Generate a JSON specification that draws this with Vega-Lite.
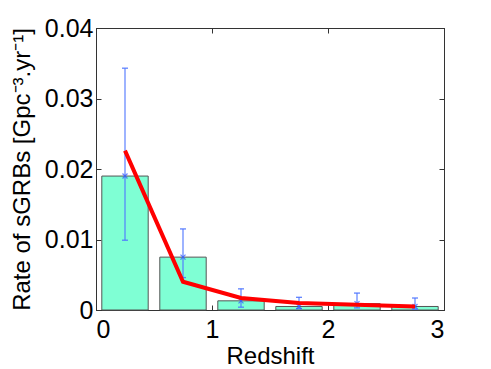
{
  "$schema": "https://vega.github.io/schema/vega-lite/v6.json",
  "autosize": "none",
  "padding": {"left": 96, "top": 28, "right": 47, "bottom": 59},
  "width": 348,
  "height": 282,
  "background": "white",
  "config": {
    "view": {"stroke": "#333", "strokeWidth": 1},
    "axis": {
      "labelFont": "Liberation Sans",
      "labelFontSize": 25,
      "labelColor": "black",
      "titleFont": "Liberation Sans",
      "titleFontSize": 24,
      "titleFontWeight": "normal",
      "titleColor": "black",
      "grid": false,
      "domainColor": "#333",
      "tickColor": "#333",
      "tickSize": -5,
      "labelPadding": 12
    }
  },
  "data": {
    "values": [
      {"z": 0.25, "lo": 0.05, "hi": 0.45, "rate": 0.019, "elo": 0.0099, "ehi": 0.0343, "model": 0.0226},
      {"z": 0.75, "lo": 0.55, "hi": 0.95, "rate": 0.0075, "elo": 0.0046, "ehi": 0.0115, "model": 0.0040},
      {"z": 1.25, "lo": 1.05, "hi": 1.45, "rate": 0.0013, "elo": 0.0004, "ehi": 0.0030, "model": 0.0017},
      {"z": 1.75, "lo": 1.55, "hi": 1.95, "rate": 0.0005, "elo": 0.0002, "ehi": 0.0018, "model": 0.0010},
      {"z": 2.25, "lo": 2.05, "hi": 2.45, "rate": 0.0009, "elo": 0.0003, "ehi": 0.0024, "model": 0.00075},
      {"z": 2.75, "lo": 2.55, "hi": 2.95, "rate": 0.0005, "elo": 0.0001, "ehi": 0.0017, "model": 0.0005}
    ]
  },
  "resolve": {"axis": {"x": "independent", "y": "independent"}},
  "layer": [
    {
      "encoding": {
        "x": {"field": "lo", "type": "quantitative", "scale": {"domain": [0, 3], "nice": false, "zero": false},
              "axis": {"title": "Redshift", "values": [0, 1, 2, 3], "format": "d", "titlePadding": 2}},
        "y": {"field": "rate", "type": "quantitative", "scale": {"domain": [0, 0.04], "nice": false},
              "axis": {"title": "Rate of sGRBs [Gpc⁻³.yr⁻¹]", "values": [0, 0.01, 0.02, 0.03, 0.04], "format": "~g", "labelPadding": 8, "titlePadding": 10}}
      },
      "layer": [
        {
          "mark": {"type": "rect", "fill": "#7fffd4", "stroke": "#555", "strokeWidth": 1},
          "encoding": {
            "x2": {"field": "hi"},
            "y2": {"datum": 0}
          }
        },
        {
          "mark": {"type": "rule", "color": "#4f75ff", "opacity": 0.85, "strokeWidth": 1.3},
          "encoding": {
            "x": {"field": "z", "type": "quantitative"},
            "y": {"field": "elo", "type": "quantitative"},
            "y2": {"field": "ehi"}
          }
        },
        {
          "mark": {"type": "tick", "orient": "horizontal", "color": "#4f75ff", "opacity": 0.9, "size": 6, "thickness": 1.3},
          "encoding": {
            "x": {"field": "z", "type": "quantitative"},
            "y": {"field": "elo", "type": "quantitative"}
          }
        },
        {
          "mark": {"type": "tick", "orient": "horizontal", "color": "#4f75ff", "opacity": 0.9, "size": 6, "thickness": 1.3},
          "encoding": {
            "x": {"field": "z", "type": "quantitative"},
            "y": {"field": "ehi", "type": "quantitative"}
          }
        },
        {
          "mark": {"type": "point", "shape": "M-1,-1L1,1M1,-1L-1,1", "color": "#2f55ff", "filled": false, "size": 25, "strokeWidth": 1.3},
          "encoding": {
            "x": {"field": "z", "type": "quantitative"}
          }
        },
        {
          "mark": {"type": "line", "color": "#ff0000", "strokeWidth": 4},
          "encoding": {
            "x": {"field": "z", "type": "quantitative"},
            "y": {"field": "model", "type": "quantitative"}
          }
        }
      ]
    },
    {
      "mark": {"type": "point", "opacity": 0},
      "encoding": {
        "x": {"field": "z", "type": "quantitative", "axis": {"orient": "top", "title": null, "labels": false, "values": [0, 1, 2, 3]}},
        "y": {"field": "rate", "type": "quantitative", "axis": {"orient": "right", "title": null, "labels": false, "values": [0, 0.01, 0.02, 0.03, 0.04]}}
      }
    }
  ]
}
